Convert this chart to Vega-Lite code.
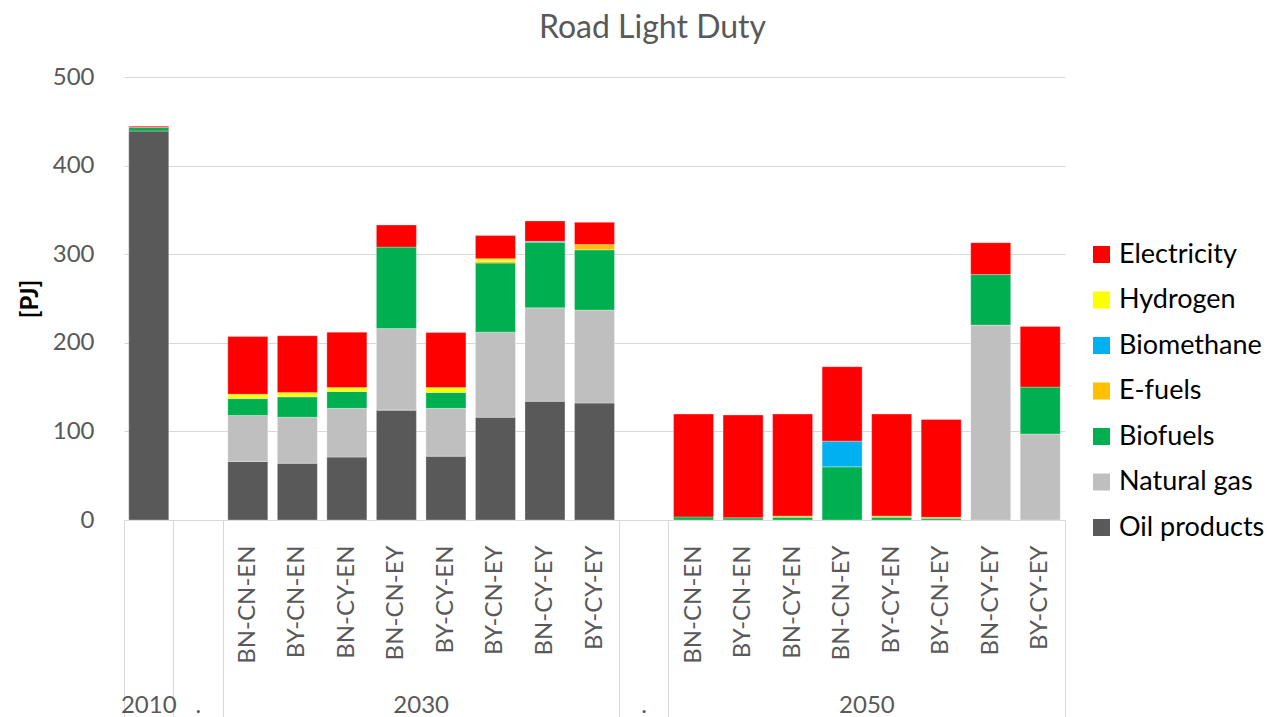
{
  "$schema": "https://vega.github.io/schema/vega-lite/v6.json",
  "width": 941,
  "height": 443,
  "autosize": {"type": "none"},
  "padding": {"left": 124, "top": 77, "right": 205, "bottom": 197},
  "background": "white",
  "config": {"view": {"stroke": null}, "font": "Lato"},
  "title": {"text": "Road Light Duty", "font": "Lato", "fontSize": 32, "fontWeight": "normal", "color": "#595959", "dx": 58, "offset": 20},
  "datasets": {
    "fuelOrder": [
      {"fuel": "Oil products", "rank": 1},
      {"fuel": "Natural gas", "rank": 2},
      {"fuel": "Biofuels", "rank": 3},
      {"fuel": "E-fuels", "rank": 4},
      {"fuel": "Biomethane", "rank": 5},
      {"fuel": "Hydrogen", "rank": 6},
      {"fuel": "Electricity", "rank": 7}
    ]
  },
  "data": {"values": [
    {"slot": "2010", "fuel": "Oil products", "pj": 439},
    {"slot": "2010", "fuel": "Biofuels", "pj": 4},
    {"slot": "2010", "fuel": "Electricity", "pj": 1.5},
    {"slot": "2030 BN-CN-EN", "fuel": "Oil products", "pj": 66},
    {"slot": "2030 BN-CN-EN", "fuel": "Natural gas", "pj": 52},
    {"slot": "2030 BN-CN-EN", "fuel": "Biofuels", "pj": 19},
    {"slot": "2030 BN-CN-EN", "fuel": "Hydrogen", "pj": 5},
    {"slot": "2030 BN-CN-EN", "fuel": "Electricity", "pj": 65},
    {"slot": "2030 BY-CN-EN", "fuel": "Oil products", "pj": 64},
    {"slot": "2030 BY-CN-EN", "fuel": "Natural gas", "pj": 52},
    {"slot": "2030 BY-CN-EN", "fuel": "Biofuels", "pj": 23},
    {"slot": "2030 BY-CN-EN", "fuel": "Hydrogen", "pj": 5},
    {"slot": "2030 BY-CN-EN", "fuel": "Electricity", "pj": 64},
    {"slot": "2030 BN-CY-EN", "fuel": "Oil products", "pj": 71},
    {"slot": "2030 BN-CY-EN", "fuel": "Natural gas", "pj": 55},
    {"slot": "2030 BN-CY-EN", "fuel": "Biofuels", "pj": 19},
    {"slot": "2030 BN-CY-EN", "fuel": "Hydrogen", "pj": 4.5},
    {"slot": "2030 BN-CY-EN", "fuel": "Electricity", "pj": 62.5},
    {"slot": "2030 BN-CN-EY", "fuel": "Oil products", "pj": 124},
    {"slot": "2030 BN-CN-EY", "fuel": "Natural gas", "pj": 92},
    {"slot": "2030 BN-CN-EY", "fuel": "Biofuels", "pj": 92},
    {"slot": "2030 BN-CN-EY", "fuel": "Electricity", "pj": 25},
    {"slot": "2030 BY-CY-EN", "fuel": "Oil products", "pj": 72},
    {"slot": "2030 BY-CY-EN", "fuel": "Natural gas", "pj": 54},
    {"slot": "2030 BY-CY-EN", "fuel": "Biofuels", "pj": 18},
    {"slot": "2030 BY-CY-EN", "fuel": "Hydrogen", "pj": 5.5},
    {"slot": "2030 BY-CY-EN", "fuel": "Electricity", "pj": 62},
    {"slot": "2030 BY-CN-EY", "fuel": "Oil products", "pj": 116},
    {"slot": "2030 BY-CN-EY", "fuel": "Natural gas", "pj": 96},
    {"slot": "2030 BY-CN-EY", "fuel": "Biofuels", "pj": 78},
    {"slot": "2030 BY-CN-EY", "fuel": "E-fuels", "pj": 2},
    {"slot": "2030 BY-CN-EY", "fuel": "Hydrogen", "pj": 3},
    {"slot": "2030 BY-CN-EY", "fuel": "Electricity", "pj": 26},
    {"slot": "2030 BN-CY-EY", "fuel": "Oil products", "pj": 134},
    {"slot": "2030 BN-CY-EY", "fuel": "Natural gas", "pj": 105.5},
    {"slot": "2030 BN-CY-EY", "fuel": "Biofuels", "pj": 74},
    {"slot": "2030 BN-CY-EY", "fuel": "Biomethane", "pj": 1},
    {"slot": "2030 BN-CY-EY", "fuel": "Electricity", "pj": 23},
    {"slot": "2030 BY-CY-EY", "fuel": "Oil products", "pj": 132},
    {"slot": "2030 BY-CY-EY", "fuel": "Natural gas", "pj": 105},
    {"slot": "2030 BY-CY-EY", "fuel": "Biofuels", "pj": 68},
    {"slot": "2030 BY-CY-EY", "fuel": "E-fuels", "pj": 6},
    {"slot": "2030 BY-CY-EY", "fuel": "Electricity", "pj": 25},
    {"slot": "2050 BN-CN-EN", "fuel": "Biofuels", "pj": 3.5},
    {"slot": "2050 BN-CN-EN", "fuel": "Electricity", "pj": 116},
    {"slot": "2050 BY-CN-EN", "fuel": "Biofuels", "pj": 2.5},
    {"slot": "2050 BY-CN-EN", "fuel": "Electricity", "pj": 116},
    {"slot": "2050 BN-CY-EN", "fuel": "Biofuels", "pj": 3},
    {"slot": "2050 BN-CY-EN", "fuel": "E-fuels", "pj": 1.5},
    {"slot": "2050 BN-CY-EN", "fuel": "Electricity", "pj": 115},
    {"slot": "2050 BN-CN-EY", "fuel": "Biofuels", "pj": 60},
    {"slot": "2050 BN-CN-EY", "fuel": "Biomethane", "pj": 29},
    {"slot": "2050 BN-CN-EY", "fuel": "Electricity", "pj": 84},
    {"slot": "2050 BY-CY-EN", "fuel": "Biofuels", "pj": 3},
    {"slot": "2050 BY-CY-EN", "fuel": "E-fuels", "pj": 1.5},
    {"slot": "2050 BY-CY-EN", "fuel": "Electricity", "pj": 115},
    {"slot": "2050 BY-CN-EY", "fuel": "Biofuels", "pj": 2},
    {"slot": "2050 BY-CN-EY", "fuel": "E-fuels", "pj": 1},
    {"slot": "2050 BY-CN-EY", "fuel": "Electricity", "pj": 110.5},
    {"slot": "2050 BN-CY-EY", "fuel": "Natural gas", "pj": 220},
    {"slot": "2050 BN-CY-EY", "fuel": "Biofuels", "pj": 57},
    {"slot": "2050 BN-CY-EY", "fuel": "Electricity", "pj": 36},
    {"slot": "2050 BY-CY-EY", "fuel": "Natural gas", "pj": 97},
    {"slot": "2050 BY-CY-EY", "fuel": "Biofuels", "pj": 53},
    {"slot": "2050 BY-CY-EY", "fuel": "Electricity", "pj": 68.5}
  ]},
  "layer": [
    {
      "transform": [
        {"lookup": "fuel", "from": {"data": {"name": "fuelOrder"}, "key": "fuel", "fields": ["rank"]}}
      ],
      "mark": {"type": "bar", "stroke": "white", "strokeWidth": 0.6, "strokeOpacity": 0.5, "width": {"band": 0.808}},
      "encoding": {
        "x": {
          "field": "slot", "type": "nominal",
          "scale": {"domain": ["2010", "gap1", "2030 BN-CN-EN", "2030 BY-CN-EN", "2030 BN-CY-EN", "2030 BN-CN-EY", "2030 BY-CY-EN", "2030 BY-CN-EY", "2030 BN-CY-EY", "2030 BY-CY-EY", "gap2", "2050 BN-CN-EN", "2050 BY-CN-EN", "2050 BN-CY-EN", "2050 BN-CN-EY", "2050 BY-CY-EN", "2050 BY-CN-EY", "2050 BN-CY-EY", "2050 BY-CY-EY"], "paddingInner": 0, "paddingOuter": 0},
          "axis": {"orient": "bottom", "title": null, "labelExpr": "length(datum.value) > 5 ? slice(datum.value, 5) : ''", "labelAngle": -90, "labelAlign": "right", "labelBaseline": "middle", "labelFont": "Lato", "labelFontSize": 24, "labelColor": "#595959", "labelPadding": 25, "ticks": false, "domain": true, "domainColor": "#d9d9d9", "domainWidth": 1, "grid": false, "labelOverlap": false, "labelBound": false}
        },
        "y": {
          "field": "pj", "type": "quantitative", "stack": "zero",
          "scale": {"domain": [0, 500], "nice": false},
          "axis": {"title": "[PJ]", "titleFont": "Lato", "titleFontSize": 24, "titleFontWeight": "bold", "titleColor": "black", "titlePadding": 10, "values": [0, 100, 200, 300, 400, 500], "grid": true, "gridColor": "#d9d9d9", "gridWidth": 1, "domain": false, "ticks": false, "labelPadding": 30, "labelFont": "Lato", "labelFontSize": 24, "labelColor": "#595959"}
        },
        "order": {"field": "rank", "type": "quantitative", "sort": "ascending"},
        "color": {
          "field": "fuel", "type": "nominal",
          "scale": {"domain": ["Electricity", "Hydrogen", "Biomethane", "E-fuels", "Biofuels", "Natural gas", "Oil products"], "range": ["#FF0000", "#FFFF00", "#00B0F0", "#FFC000", "#00B050", "#BFBFBF", "#595959"]},
          "legend": {"orient": "none", "legendX": 964, "legendY": 164, "title": null, "symbolType": "square", "symbolSize": 289, "symbolStrokeWidth": 0, "labelFont": "Lato", "labelFontSize": 27, "labelColor": "black", "labelOffset": 4, "rowPadding": 17.5}
        }
      }
    },
    {
      "data": {"values": []},
      "mark": "rule",
      "encoding": {
        "x": {
          "field": "slot", "type": "nominal",
          "scale": {"domain": ["2010", "gap1", "2030 BN-CN-EN", "2030 BY-CN-EN", "2030 BN-CY-EN", "2030 BN-CN-EY", "2030 BY-CY-EN", "2030 BY-CN-EY", "2030 BN-CY-EY", "2030 BY-CY-EY", "gap2", "2050 BN-CN-EN", "2050 BY-CN-EN", "2050 BN-CY-EN", "2050 BN-CN-EY", "2050 BY-CY-EN", "2050 BY-CN-EY", "2050 BN-CY-EY", "2050 BY-CY-EY"], "paddingInner": 0, "paddingOuter": 0},
          "axis": {"orient": "bottom", "title": null, "labels": false, "domain": false, "grid": false, "ticks": true, "bandPosition": 0, "tickSize": 197, "tickColor": "#d9d9d9", "tickWidth": 1, "tickOpacity": {"condition": {"test": "indexof(['2010','gap1','2030 BN-CN-EN','gap2','2050 BN-CN-EN'], datum.value) >= 0", "value": 1}, "value": 0}}
        }
      }
    },
    {
      "data": {"values": []},
      "mark": "rule",
      "encoding": {
        "x": {
          "field": "slot", "type": "nominal",
          "scale": {"domain": ["2010", "gap1", "2030 BN-CN-EN", "2030 BY-CN-EN", "2030 BN-CY-EN", "2030 BN-CN-EY", "2030 BY-CY-EN", "2030 BY-CN-EY", "2030 BN-CY-EY", "2030 BY-CY-EY", "gap2", "2050 BN-CN-EN", "2050 BY-CN-EN", "2050 BN-CY-EN", "2050 BN-CN-EY", "2050 BY-CY-EN", "2050 BY-CN-EY", "2050 BN-CY-EY", "2050 BY-CY-EY"], "paddingInner": 0, "paddingOuter": 0},
          "axis": {"orient": "bottom", "title": null, "domain": false, "grid": false, "ticks": true, "bandPosition": 1, "tickSize": 197, "tickColor": "#d9d9d9", "tickWidth": 1, "tickOpacity": {"condition": {"test": "datum.value == '2050 BY-CY-EY'", "value": 1}, "value": 0}, "labelAngle": 0, "labelAlign": "center", "labelBaseline": "top", "labelOverlap": false, "labelBound": false, "labelFont": "Lato", "labelFontSize": 24, "labelColor": "#595959", "labelPadding": -24, "labelExpr": "datum.value == '2010' ? '2010' : (datum.value == 'gap1' || datum.value == 'gap2') ? '.' : datum.value == '2030 BN-CN-EY' ? '2030' : datum.value == '2050 BN-CN-EY' ? '2050' : ''", "labelOffset": {"condition": {"test": "datum.value == '2030 BN-CN-EY' || datum.value == '2050 BN-CN-EY'", "value": 24.76}, "value": 0}}
        }
      }
    }
  ],
  "resolve": {"axis": {"x": "independent"}}
}
